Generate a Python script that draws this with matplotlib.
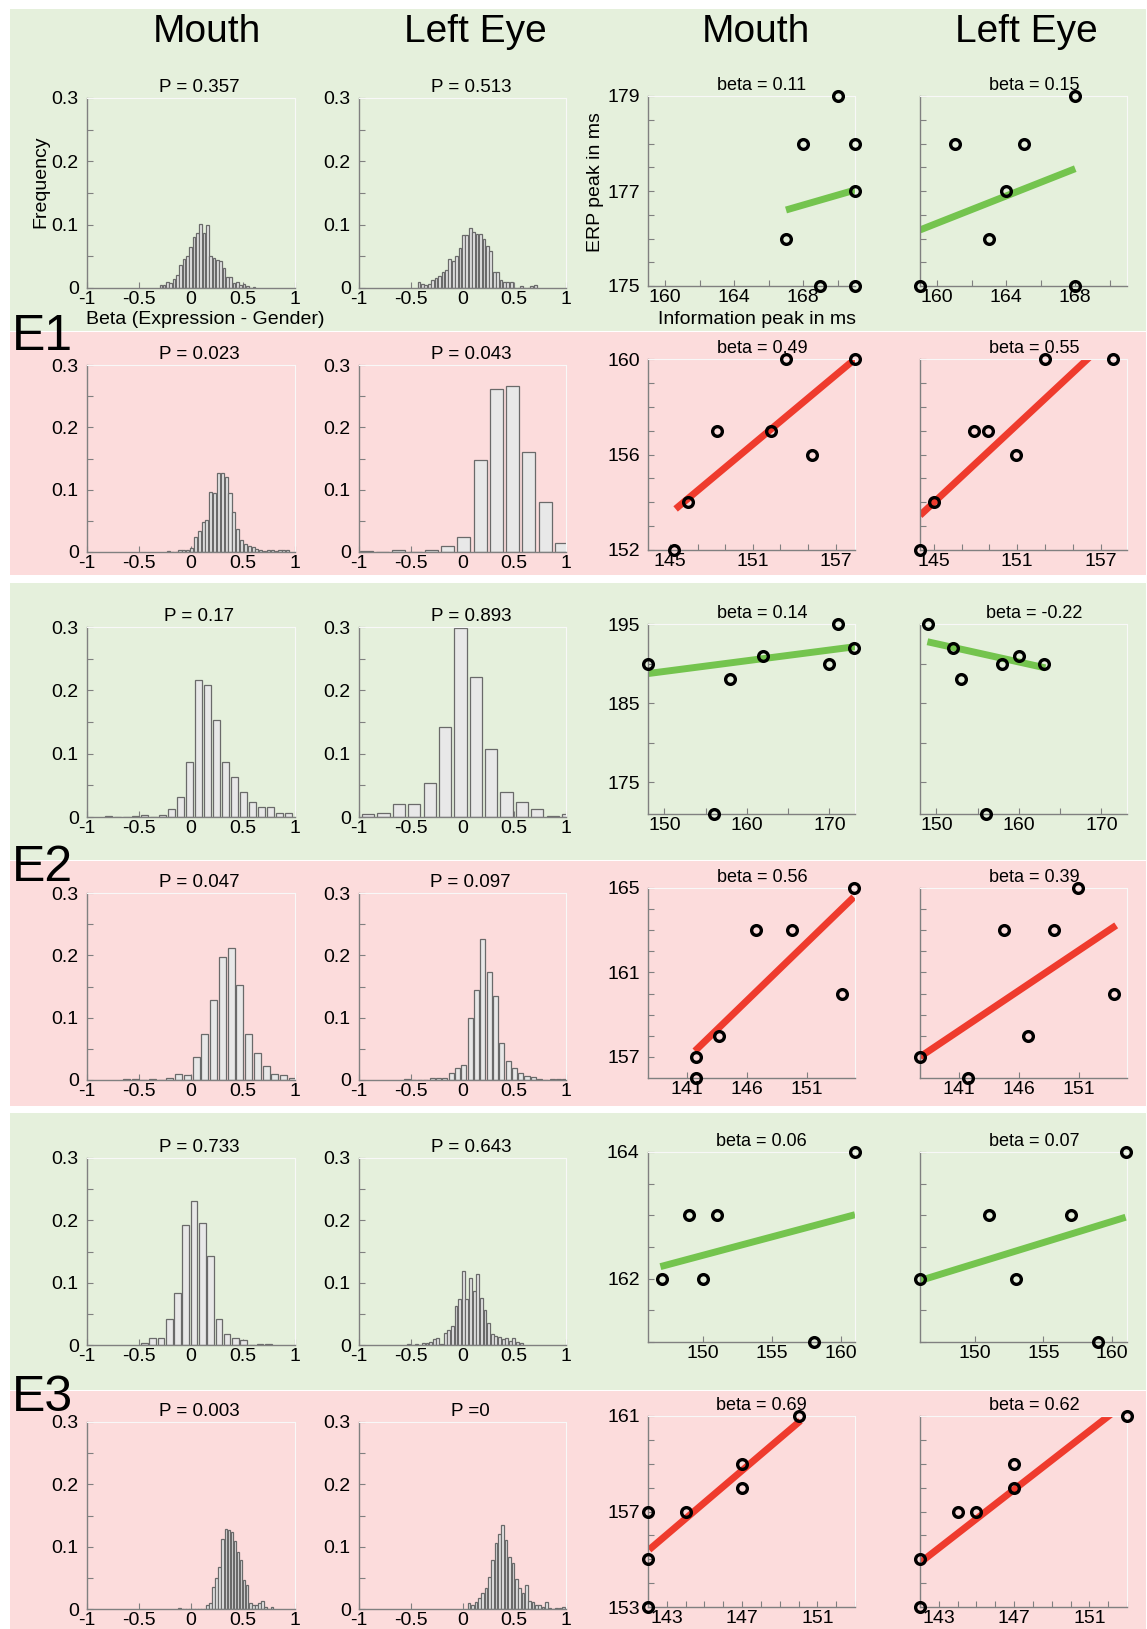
import matplotlib
matplotlib.use('Agg')
import matplotlib.pyplot as plt
from matplotlib.patches import Rectangle
import numpy as np

plt.rcParams['font.family'] = ['Liberation Sans', 'DejaVu Sans']

W, H = 1147, 1629
fig = plt.figure(figsize=(W / 100, H / 100), dpi=100)

# ---------------- DATA ----------------
col_titles = ['Mouth', 'Left Eye', 'Mouth', 'Left Eye']
row_labels = ['E1', 'E2', 'E3']

p_titles = [['P = 0.357', 'P = 0.513'],
            ['P = 0.023', 'P = 0.043'],
            ['P = 0.17', 'P = 0.893'],
            ['P = 0.047', 'P = 0.097'],
            ['P = 0.733', 'P = 0.643'],
            ['P = 0.003', 'P =0']]
beta_titles = [['beta = 0.11', 'beta = 0.15'],
               ['beta = 0.49', 'beta = 0.55'],
               ['beta = 0.14', 'beta = -0.22'],
               ['beta = 0.56', 'beta = 0.39'],
               ['beta = 0.06', 'beta = 0.07'],
               ['beta = 0.69', 'beta = 0.62']]

# histograms: first bin centre, bin width, frequencies
h1_mouth_start, h1_mouth_width = -0.29, 0.032
h1_mouth = [0.004, 0.005, 0.009, 0.008, 0.014, 0.021, 0.036, 0.046, 0.051, 0.065, 0.080, 0.087,
            0.101, 0.087, 0.099, 0.050, 0.047, 0.045, 0.042, 0.031, 0.017, 0.017, 0.008, 0.009,
            0.004, 0.006, 0.003, 0.0, 0.002]
h1_eye_start, h1_eye_width = -0.42, 0.033
h1_eye = [0.009, 0.006, 0.005, 0.007, 0.012, 0.016, 0.019, 0.025, 0.029, 0.046, 0.043, 0.051,
          0.063, 0.083, 0.084, 0.094, 0.088, 0.085, 0.085, 0.078, 0.066, 0.058, 0.025, 0.025,
          0.013, 0.009, 0.009, 0.009, 0.0, 0.0, 0.003, 0.0, 0.0, 0.003, 0.004]
h2_mouth_start, h2_mouth_width = -0.217, 0.037
h2_mouth = [0.002, 0.0, 0.0, 0.003, 0.003, 0.004, 0.006, 0.024, 0.033, 0.048, 0.051, 0.097,
            0.094, 0.127, 0.126, 0.121, 0.094, 0.064, 0.037, 0.020, 0.013, 0.009, 0.008, 0.005,
            0.003, 0.002, 0.003, 0.003, 0.002, 0.003, 0.004, 0.004]
h2_eye_start, h2_eye_width = -0.929, 0.157
h2_eye = [0.002, 0.0, 0.003, 0.0, 0.003, 0.010, 0.024, 0.147, 0.261, 0.267, 0.160, 0.080, 0.015]
h3_mouth_start, h3_mouth_width = -0.792, 0.0865
h3_mouth = [0.002, 0.0, 0.0, 0.002, 0.003, 0.0, 0.003, 0.013, 0.032, 0.087, 0.217, 0.208,
            0.153, 0.087, 0.063, 0.039, 0.023, 0.016, 0.016, 0.007, 0.007]
h3_eye_start, h3_eye_width = -0.911, 0.1485
h3_eye = [0.004, 0.007, 0.021, 0.021, 0.053, 0.142, 0.299, 0.221, 0.108, 0.039, 0.023, 0.012,
          0.002, 0.004]
h4_mouth_start, h4_mouth_width = -0.622, 0.084
h4_mouth = [0.001, 0.001, 0.0, 0.001, 0.0, 0.003, 0.009, 0.008, 0.037, 0.073, 0.129, 0.198,
            0.211, 0.152, 0.074, 0.043, 0.023, 0.010, 0.008, 0.004]
h4_eye_start, h4_eye_width = -0.536, 0.061
h4_eye = [0.001, 0.0, 0.0, 0.0, 0.004, 0.004, 0.003, 0.011, 0.019, 0.024, 0.099, 0.144, 0.227,
          0.174, 0.134, 0.059, 0.030, 0.020, 0.011, 0.006, 0.005, 0.002, 0.0, 0.002, 0.002, 0.002]
h5_mouth_start, h5_mouth_width = -0.448, 0.0795
h5_mouth = [0.004, 0.012, 0.012, 0.041, 0.084, 0.192, 0.231, 0.196, 0.143, 0.041, 0.017, 0.011,
            0.008, 0.0, 0.001, 0.001]
h5_eye_start, h5_eye_width = -0.518, 0.035
h5_eye = [0.002, 0.0, 0.002, 0.0, 0.003, 0.004, 0.005, 0.009, 0.011, 0.001, 0.020, 0.024, 0.031,
          0.063, 0.074, 0.119, 0.073, 0.107, 0.086, 0.114, 0.075, 0.056, 0.035, 0.017, 0.015,
          0.013, 0.009, 0.011, 0.006, 0.011, 0.005, 0.003]
h6_mouth_start, h6_mouth_width = -0.1085, 0.0295
h6_mouth = [0.002, 0.0, 0.0, 0.0, 0.0, 0.0, 0.0, 0.0, 0.0, 0.006, 0.010, 0.035, 0.049, 0.067,
            0.113, 0.128, 0.126, 0.124, 0.109, 0.091, 0.079, 0.046, 0.038, 0.010, 0.007, 0.006,
            0.010, 0.013, 0.003, 0.0, 0.003]
h6_eye_start, h6_eye_width = 0.064, 0.0325
h6_eye = [0.009, 0.006, 0.011, 0.017, 0.025, 0.034, 0.051, 0.079, 0.106, 0.121, 0.135, 0.111,
          0.084, 0.073, 0.048, 0.033, 0.025, 0.038, 0.013, 0.011, 0.007, 0.006, 0.003, 0.011,
          0.002, 0.0, 0.002, 0.002, 0.004]

# scatter points: information peak (x) vs ERP peak (y), plus fitted line ends
s1_mouth_x = [167, 168, 170, 171, 171, 171, 169]
s1_mouth_y = [176, 178, 179, 178, 177, 175, 175]
s1_mouth_fit = [167, 171, 176.6, 177.02]
s1_eye_x = [159, 161, 163, 164, 165, 168, 168]
s1_eye_y = [175, 178, 176, 177, 178, 179, 175]
s1_eye_fit = [159, 168, 176.18, 177.47]

s2_mouth_x = [145.3, 146.3, 148.4, 152.3, 153.4, 155.3, 158.4]
s2_mouth_y = [152, 154, 157, 157, 160, 156, 160]
s2_mouth_fit = [145.4, 158.4, 153.72, 160.0]
s2_eye_x = [144.0, 145.0, 147.9, 148.9, 150.9, 153.0, 157.9]
s2_eye_y = [152, 154, 157, 157, 156, 160, 160]
s2_eye_fit = [144.0, 157.9, 153.45, 161.0]

s3_mouth_x = [148, 156, 158, 162, 170, 171, 173]
s3_mouth_y = [190, 171, 188, 191, 190, 195, 192]
s3_mouth_fit = [148, 173.1, 188.74, 192.13]
s3_eye_x = [149, 152, 153, 156, 158, 160, 163]
s3_eye_y = [195, 192, 188, 171, 190, 191, 190]
s3_eye_fit = [148.9, 163.2, 192.76, 189.46]

s4_mouth_x = [141.8, 141.8, 143.7, 146.8, 149.8, 153.9, 154.9]
s4_mouth_y = [157, 156, 158, 163, 163, 160, 165]
s4_mouth_fit = [141.7, 154.9, 157.28, 164.57]
s4_eye_x = [137.8, 141.8, 144.8, 146.8, 148.9, 150.9, 153.9]
s4_eye_y = [157, 156, 163, 158, 163, 165, 160]
s4_eye_fit = [137.8, 154.1, 157.0, 163.23]

s5_mouth_x = [147, 149, 150, 151, 158, 161]
s5_mouth_y = [162, 163, 162, 163, 161, 164]
s5_mouth_fit = [146.9, 161.0, 162.19, 163.01]
s5_eye_x = [146, 151, 153, 157, 159, 161]
s5_eye_y = [162, 163, 162, 163, 161, 164]
s5_eye_fit = [146.0, 161.0, 161.97, 162.97]

s6_mouth_x = [142, 142, 142, 144, 147, 147, 150]
s6_mouth_y = [153, 155, 157, 157, 158, 159, 161]
s6_mouth_fit = [142.06, 150.1, 155.4, 160.8]
s6_eye_x = [142, 142, 144, 145, 147, 147, 153]
s6_eye_y = [153, 155, 157, 157, 158, 159, 161]
s6_eye_fit = [142.06, 153.0, 154.89, 161.6]

# axis ranges / ticks per row
sc_xlims = [[(159, 171), (159, 171)], [(143.4, 158.4), (144, 158.9)], [(148, 173.1), (148, 173.1)],
            [(137.8, 155), (137.8, 155)], [(146, 161), (146, 161.1)], [(142, 153), (142, 153)]]
sc_ylims = [(175, 179), (152, 160), (171, 195), (156, 165), (161, 164), (153, 161)]
sc_xticks = [[160, 162, 164, 166, 168, 170], [145, 147, 149, 151, 153, 155, 157],
             [150, 155, 160, 165, 170], [141, 146, 151], [150, 155, 160],
             [142, 143, 144, 145, 146, 147, 148, 149, 150, 151, 152, 153]]
sc_xlabels = [['160', '', '164', '', '168', ''], ['145', '', '', '151', '', '', '157'],
              ['150', '', '160', '', '170'], ['141', '146', '151'], ['150', '155', '160'],
              ['', '143', '', '', '', '147', '', '', '', '151', '', '']]
sc_yticks = [[175, 175.5, 176, 176.5, 177, 177.5, 178, 178.5, 179],
             [152, 153, 154, 155, 156, 157, 158, 159, 160],
             [175, 180, 185, 190, 195],
             [157, 158, 159, 160, 161, 162, 163, 164, 165],
             [161, 161.5, 162, 162.5, 163, 163.5, 164],
             [153, 154, 155, 156, 157, 158, 159, 160, 161]]
sc_ylabels = [['175', '', '', '', '177', '', '', '', '179'],
              ['152', '', '', '', '156', '', '', '', '160'],
              ['175', '', '185', '', '195'],
              ['157', '', '', '', '161', '', '', '', '165'],
              ['', '', '162', '', '', '', '164'],
              ['153', '', '', '', '157', '', '', '', '161']]
fit_colors = ['green', 'red', 'green', 'red', 'green', 'red']

hist_yticks = [0, 0.05, 0.1, 0.15, 0.2, 0.25, 0.3]
hist_ylabels = ['0', '', '0.1', '', '0.2', '', '0.3']
hist_xticks = [-1, -0.5, 0, 0.5, 1]
hist_xlabels = ['-1', '-0.5', '0', '0.5', '1']

# ---------------- STYLE ----------------
GREEN_BG = '#e5f0dc'
PINK_BG = '#fcdcdc'
LINE_COL = {'green': '#74c44e', 'red': '#ef3b2d'}
SPINE = '#808080'
FS_TICK = 14
FS_TITLE = 13.5

panel_bounds = [(9, 331), (332, 575), (583, 860), (861, 1106), (1113, 1390), (1391, 1629)]
panel_colors = [GREEN_BG, PINK_BG, GREEN_BG, PINK_BG, GREEN_BG, PINK_BG]
for (t, b), c in zip(panel_bounds, panel_colors):
    fig.patches.append(Rectangle((10 / W, 1 - b / H), (1146 - 10) / W, (b - t) / H,
                                 transform=fig.transFigure, facecolor=c, edgecolor='none',
                                 zorder=-10))

col_x = [(87, 295), (359, 566), (648, 855), (920, 1127)]
hist_rows = [(98, 288), (365, 552), (627, 817), (893, 1080), (1158, 1345), (1422, 1609)]
sc_rows = [(96, 286), (359, 550), (624, 814), (888, 1078), (1152, 1342), (1416, 1607)]


def add_ax(lr, tb):
    l, r = lr
    t, b = tb
    ax = fig.add_axes([l / W, 1 - b / H, (r - l) / W, (b - t) / H], zorder=1)
    ax.patch.set_alpha(0)
    for s in ['left', 'bottom']:
        ax.spines[s].set_color(SPINE)
        ax.spines[s].set_linewidth(1.0)
    for s in ['top', 'right']:
        ax.spines[s].set_color('#f8f8f8')
        ax.spines[s].set_linewidth(0.8)
    ax.tick_params(direction='in', length=4, width=0.8, color=SPINE, labelsize=FS_TICK,
                   labelcolor='black', top=False, right=False)
    ax.tick_params(axis='y', pad=6)
    ax.tick_params(axis='x', pad=2)
    return ax


hists = [[(h1_mouth_start, h1_mouth_width, h1_mouth), (h1_eye_start, h1_eye_width, h1_eye)],
         [(h2_mouth_start, h2_mouth_width, h2_mouth), (h2_eye_start, h2_eye_width, h2_eye)],
         [(h3_mouth_start, h3_mouth_width, h3_mouth), (h3_eye_start, h3_eye_width, h3_eye)],
         [(h4_mouth_start, h4_mouth_width, h4_mouth), (h4_eye_start, h4_eye_width, h4_eye)],
         [(h5_mouth_start, h5_mouth_width, h5_mouth), (h5_eye_start, h5_eye_width, h5_eye)],
         [(h6_mouth_start, h6_mouth_width, h6_mouth), (h6_eye_start, h6_eye_width, h6_eye)]]
scats = [[(s1_mouth_x, s1_mouth_y, s1_mouth_fit), (s1_eye_x, s1_eye_y, s1_eye_fit)],
         [(s2_mouth_x, s2_mouth_y, s2_mouth_fit), (s2_eye_x, s2_eye_y, s2_eye_fit)],
         [(s3_mouth_x, s3_mouth_y, s3_mouth_fit), (s3_eye_x, s3_eye_y, s3_eye_fit)],
         [(s4_mouth_x, s4_mouth_y, s4_mouth_fit), (s4_eye_x, s4_eye_y, s4_eye_fit)],
         [(s5_mouth_x, s5_mouth_y, s5_mouth_fit), (s5_eye_x, s5_eye_y, s5_eye_fit)],
         [(s6_mouth_x, s6_mouth_y, s6_mouth_fit), (s6_eye_x, s6_eye_y, s6_eye_fit)]]

for r in range(6):
    for c in range(2):
        start, width, heights = hists[r][c]
        centers = [start + width * i for i in range(len(heights))]
        ax = add_ax(col_x[c], hist_rows[r])
        ax.bar(centers, heights, width=0.8 * width, color='#e8e8e8', edgecolor='#6a6a6a',
               linewidth=0.9, zorder=2)
        ax.set_xlim(-1, 1)
        ax.set_ylim(0, 0.3)
        ax.set_xticks(hist_xticks)
        ax.set_xticklabels(hist_xlabels)
        ax.set_yticks(hist_yticks)
        ax.set_yticklabels(hist_ylabels)
        ax.text(0.54, 1.012, p_titles[r][c], transform=ax.transAxes, ha='center', va='bottom',
                fontsize=FS_TITLE)
    for c in range(2):
        xs, ys, fit = scats[r][c]
        ax = add_ax(col_x[c + 2], sc_rows[r])
        ax.plot([fit[0], fit[1]], [fit[2], fit[3]], color=LINE_COL[fit_colors[r]],
                linewidth=5, solid_capstyle='butt', zorder=2)
        ax.plot(xs, ys, linestyle='none', marker='o', markersize=7, markerfacecolor='none',
                markeredgecolor='black', markeredgewidth=2.4, zorder=3, clip_on=False)
        ax.set_xlim(*sc_xlims[r][c])
        ax.set_ylim(*sc_ylims[r])
        ax.set_xticks(sc_xticks[r])
        ax.set_xticklabels(sc_xlabels[r])
        ax.set_yticks(sc_yticks[r])
        if c == 0:
            ax.set_yticklabels(sc_ylabels[r])
        else:
            ax.set_yticklabels([])
        ax.text(0.55, 1.012, beta_titles[r][c], transform=ax.transAxes, ha='center',
                va='bottom', fontsize=13)

# axis labels on first row
fig.text(41 / W, 1 - 182 / H, 'Frequency', rotation=90, ha='center', va='center', fontsize=14)
fig.text(205 / W, 1 - 320 / H, 'Beta (Expression - Gender)', ha='center', va='center', fontsize=14)
fig.text(595 / W, 1 - 182 / H, 'ERP peak in ms', rotation=90, ha='center', va='center', fontsize=14)
fig.text(757 / W, 1 - 320 / H, 'Information peak in ms', ha='center', va='center', fontsize=14)

# column headers
header_x = [207, 475, 756, 1026]
for x, t in zip(header_x, col_titles):
    fig.text(x / W, 1 - 42 / H, t, ha='center', va='baseline', fontsize=28)

# experiment labels
label_y = [350, 881, 1411]
for y, t in zip(label_y, row_labels):
    fig.text(12 / W, 1 - y / H, t, ha='left', va='baseline', fontsize=36)

fig.savefig('out.png', dpi=100)
